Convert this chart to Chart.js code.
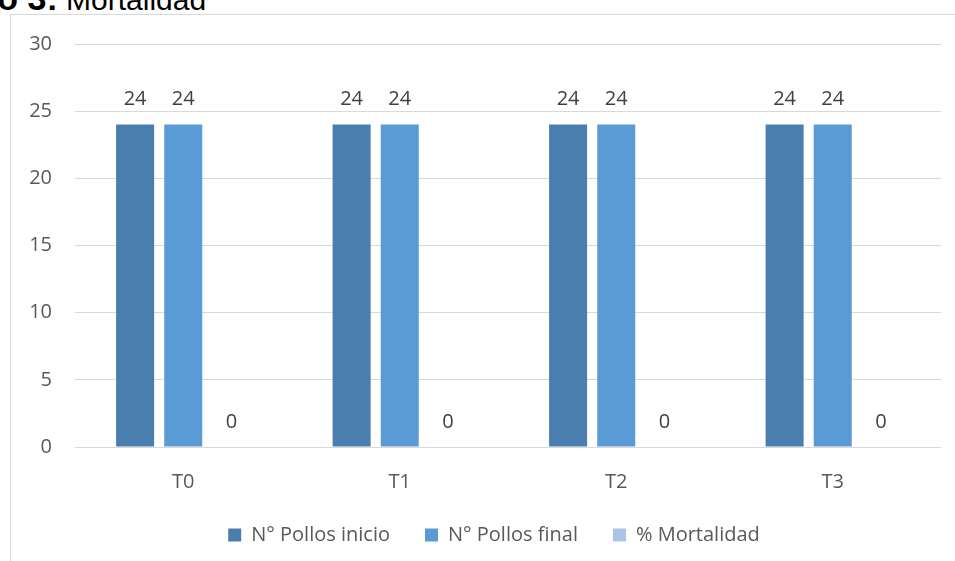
<!DOCTYPE html>
<html>
<head>
<meta charset="utf-8">
<script src="https://cdn.jsdelivr.net/npm/chart.js@4"></script>
<style>
  html, body { margin:0; padding:0; background:#fff; width:955px; height:561px; overflow:hidden; }
  #title { position:absolute; left:-101px; top:-17px; font-family:"Liberation Sans", Arial, sans-serif; font-size:30px; line-height:30px; color:#000; white-space:nowrap; }
  #title b { font-weight:bold; font-size:34px; }
  #frame { position:absolute; left:10px; top:14px; width:960px; height:560px; border:1px solid #d9d9d9; box-sizing:border-box; }
  #wrap { position:absolute; left:11px; top:15px; width:945px; height:548px; }
</style>
</head>
<body>
<div id="title"><b>Gráfico 3:</b> Mortalidad</div>
<div id="frame"></div>
<div id="wrap"><canvas id="c" width="945" height="548"></canvas></div>
<script>
const categories = ["T0", "T1", "T2", "T3"];
const pollosInicio = [24, 24, 24, 24];
const pollosFinal = [24, 24, 24, 24];
const mortalidad = [0, 0, 0, 0];
const yTicks = [0, 5, 10, 15, 20, 25, 30];
const seriesNames = ["N° Pollos inicio", "N° Pollos final", "% Mortalidad"];

const FONT = "'Open Sans', sans-serif";
const FS = 20;

const dataLabels = {
  id: 'dataLabels',
  afterDatasetsDraw(chart) {
    const ctx = chart.ctx;
    ctx.save();
    ctx.font = FS + "px " + FONT;
    ctx.fillStyle = "#404040";
    ctx.textAlign = "center";
    ctx.textBaseline = "middle";
    chart.data.datasets.forEach((ds, i) => {
      const meta = chart.getDatasetMeta(i);
      meta.data.forEach((bar, j) => {
        ctx.fillText(String(ds.data[j]), bar.x, bar.y - 25);
      });
    });
    ctx.restore();
  }
};

const legendShift = {
  id: 'legendShift',
  afterLayout(chart) {
    if (chart.legend) { chart.legend.left += 18; chart.legend.right += 18; }
  }
};

new Chart(document.getElementById('c'), {
  type: 'bar',
  data: {
    labels: categories,
    datasets: [
      { label: seriesNames[0], data: pollosInicio, backgroundColor: '#4a7eaf' },
      { label: seriesNames[1], data: pollosFinal, backgroundColor: '#5b9bd5' },
      { label: seriesNames[2], data: mortalidad, backgroundColor: '#a9c4e6' }
    ]
  },
  options: {
    responsive: false,
    animation: false,
    devicePixelRatio: 1,
    layout: { padding: { top: 29, right: 15, left: 0, bottom: 8 } },
    datasets: { bar: { categoryPercentage: 0.667, barPercentage: 0.79 } },
    scales: {
      x: {
        grid: { display: false, drawTicks: false },
        border: { display: false },
        ticks: { color: '#595959', font: { family: FONT, size: FS }, padding: 23 },
        afterFit(s) { s.height = 43; s.paddingLeft = 0; s.paddingRight = 0; }
      },
      y: {
        min: 0, max: 30,
        afterBuildTicks(s) { s.ticks = yTicks.map(v => ({ value: v })); },
        grid: { color: '#d9d9d9', lineWidth: 1, drawTicks: false },
        border: { display: false },
        ticks: { color: '#595959', font: { family: FONT, size: FS }, padding: 23 },
        afterFit(s) { s.width = 64; s.paddingTop = 0; s.paddingBottom = 0; }
      }
    },
    plugins: {
      legend: {
        position: 'bottom',
        labels: { boxWidth: 13, boxHeight: 13, color: '#595959', font: { family: FONT, size: FS }, padding: 35 }
      },
      tooltip: { enabled: false }
    }
  },
  plugins: [dataLabels, legendShift]
});
</script>
</body>
</html>
